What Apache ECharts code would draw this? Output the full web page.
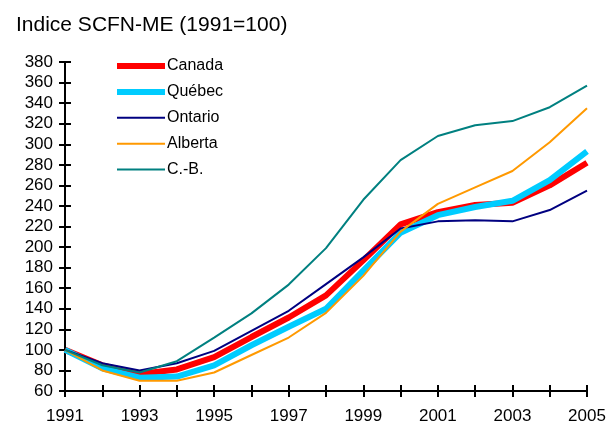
<!DOCTYPE html>
<html><head><meta charset="utf-8">
<script src="https://cdn.jsdelivr.net/npm/echarts@6/dist/echarts.min.js"></script>
<style>html,body{margin:0;padding:0;background:#fff}#c{width:616px;height:425px}</style>
</head><body><div id="c"></div>
<script>
const years = ['1991','1992','1993','1994','1995','1996','1997','1998','1999','2000','2001','2002','2003','2004','2005'];
const canada  = [100, 85, 76.5, 81, 93, 112.5, 131.5, 153, 187, 222, 234, 241, 243, 260, 282];
const quebec  = [100, 82, 73, 74, 85, 104.5, 122.5, 140, 177, 214, 231, 239, 245, 265, 293];
const ontario = [100, 87, 80, 87, 99, 118.5, 138, 164, 190, 218, 225, 226, 225, 236, 255];
const alberta = [100, 80, 70, 70, 78, 95, 112, 136, 172, 215, 242, 258, 274, 302, 335];
const cb      = [100, 85, 78, 89, 112, 135.5, 163.5, 199, 246, 284.5, 308, 318.5, 322.5, 336, 357];
const names = ['Canada','Québec','Ontario','Alberta','C.-B.'];
const yTicks = {min: 60, max: 380, step: 20};

const font = 'Liberation Sans, Arial, sans-serif';
const chart = echarts.init(document.getElementById('c'), null, {renderer: 'canvas'});
function s(name, data, color, width) {
  return {name, type: 'line', data, symbol: 'none', animation: false,
    lineStyle: {color, width}, itemStyle: {color}};
}
const widths = [6, 6, 2, 2, 2];
const tickStyle = {color: '#000', width: 2};
chart.setOption({
  animation: false,
  backgroundColor: '#fff',
  title: {text: 'Indice SCFN-ME (1991=100)', left: 11, top: 10,
    textStyle: {fontFamily: font, fontSize: 21, fontWeight: 'normal', color: '#000'}},
  legend: {orient: 'vertical', left: 109, top: 53, itemWidth: 48, itemHeight: 14, itemGap: 9.9,
    textStyle: {fontFamily: font, fontSize: 16, color: '#000', padding: [0,0,0,-3]},
    data: names.map((n, i) => ({name: n, itemStyle: {opacity: 0}, lineStyle: {width: widths[i]}}))},
  grid: {left: 65, top: 62, right: 29, bottom: 34, containLabel: false},
  xAxis: [{type: 'category', data: years, boundaryGap: false,
    axisLine: {lineStyle: {color: '#000', width: 2}},
    axisTick: {show: true, interval: 0, length: 6, lineStyle: tickStyle},
    axisLabel: {interval: 1, fontFamily: font, fontSize: 17, color: '#000', margin: 17},
    splitLine: {show: false}},
    {type: 'category', data: years, boundaryGap: false, position: 'bottom',
    axisLine: {show: false},
    axisTick: {show: true, inside: true, interval: 0, length: 6, lineStyle: tickStyle},
    axisLabel: {show: false}, splitLine: {show: false}}],
  yAxis: [{type: 'value', min: yTicks.min, max: yTicks.max, interval: yTicks.step,
    axisLine: {show: true, lineStyle: {color: '#000', width: 2}},
    axisTick: {show: true, length: 6, lineStyle: tickStyle},
    axisLabel: {fontFamily: font, fontSize: 17, color: '#000', margin: 12},
    splitLine: {show: false}},
    {type: 'value', min: yTicks.min, max: yTicks.max, interval: yTicks.step, position: 'left',
    axisLine: {show: false},
    axisTick: {show: true, inside: true, length: 6, lineStyle: tickStyle},
    axisLabel: {show: false}, splitLine: {show: false}}],
  series: [
    s('Canada', canada, '#ff0000', 6),
    s('Québec', quebec, '#00ccff', 6),
    s('Ontario', ontario, '#000080', 2),
    s('Alberta', alberta, '#ff9900', 2),
    s('C.-B.', cb, '#008080', 2)
  ]
});
</script></body></html>
